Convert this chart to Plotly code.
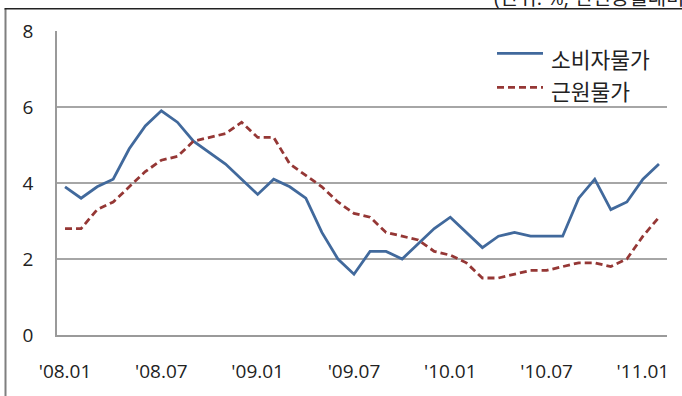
import plotly.graph_objects as go

# Monthly year-on-year inflation, Jan 2008 - Feb 2011 (%)
months = [f"'{y:02d}.{m:02d}" for y in (8, 9, 10) for m in range(1, 13)] + ["'11.01", "'11.02"]

cpi = [3.9, 3.6, 3.9, 4.1, 4.9, 5.5, 5.9, 5.6, 5.1, 4.8, 4.5, 4.1,
       3.7, 4.1, 3.9, 3.6, 2.7, 2.0, 1.6, 2.2, 2.2, 2.0, 2.4, 2.8,
       3.1, 2.7, 2.3, 2.6, 2.7, 2.6, 2.6, 2.6, 3.6, 4.1, 3.3, 3.5,
       4.1, 4.5]

core = [2.8, 2.8, 3.3, 3.5, 3.9, 4.3, 4.6, 4.7, 5.1, 5.2, 5.3, 5.6,
        5.2, 5.2, 4.5, 4.2, 3.9, 3.5, 3.2, 3.1, 2.7, 2.6, 2.5, 2.2,
        2.1, 1.9, 1.5, 1.5, 1.6, 1.7, 1.7, 1.8, 1.9, 1.9, 1.8, 2.0,
        2.6, 3.1]

series_names = ["소비자물가", "근원물가"]
tick_labels = ["'08.01", "'08.07", "'09.01", "'09.07", "'10.01", "'10.07", "'11.01"]
y_ticks = [0, 2, 4, 6, 8]
unit_note = "(단위: %, 전년동월대비)"

BLUE = "#41699C"
RED = "#953735"
FONT = "Open Sans, Noto Sans CJK KR, sans-serif"

W, H = 682, 396
L, R, T, B = 57, 15, 31, 58
PW, PH = W - L - R, H - T - B


def px(x):
    return (x - L) / PW


def py(y):
    return (H - B - y) / PH


fig = go.Figure()
fig.add_trace(go.Scatter(x=months, y=cpi, mode="lines", name=series_names[0],
                         line=dict(color=BLUE, width=2.8)))
fig.add_trace(go.Scatter(x=months, y=core, mode="lines", name=series_names[1],
                         line=dict(color=RED, width=2.8, dash="7px,4px")))

shapes = [
    # outer frame
    dict(type="line", xref="paper", yref="paper", x0=px(5.5), x1=px(5.5),
         y0=py(8.5), y1=py(420), line=dict(color="#7F7F7F", width=2)),
    dict(type="line", xref="paper", yref="paper", x0=px(4.5), x1=px(700),
         y0=py(8.5), y1=py(8.5), line=dict(color="#222222", width=1.5)),
    # legend samples
    dict(type="line", xref="paper", yref="paper", x0=px(497), x1=px(543),
         y0=py(53.5), y1=py(53.5), line=dict(color=BLUE, width=2.8)),
    dict(type="line", xref="paper", yref="paper", x0=px(497), x1=px(543),
         y0=py(88), y1=py(88), line=dict(color=RED, width=2.8, dash="7px,4px")),
]

annotations = [
    dict(text=series_names[0], xref="paper", yref="paper", x=px(549), y=py(60),
         xanchor="left", yanchor="middle", showarrow=False,
         font=dict(family=FONT, size=21.5, color="#222222")),
    dict(text=series_names[1], xref="paper", yref="paper", x=px(549), y=py(92),
         xanchor="left", yanchor="middle", showarrow=False,
         font=dict(family=FONT, size=21.5, color="#222222")),
    dict(text=unit_note, xref="paper", yref="paper", x=px(492), y=py(-3),
         xanchor="left", yanchor="middle", showarrow=False,
         font=dict(family=FONT, size=20, color="#222222")),
]

fig.update_layout(
    width=W, height=H,
    margin=dict(l=L, r=R, t=T, b=B),
    paper_bgcolor="white", plot_bgcolor="white",
    showlegend=False,
    shapes=shapes, annotations=annotations,
    font=dict(family=FONT, size=19, color="#222222"),
)
fig.update_xaxes(
    type="category", range=[-0.5, len(months) - 0.5],
    tickmode="array", tickvals=tick_labels, ticktext=tick_labels,
    showgrid=False, showline=True, linecolor="#9A9A9A", linewidth=1.6,
    ticks="", ticklabelstandoff=18, tickfont=dict(size=19),
)
fig.update_yaxes(
    range=[0, 8], tickmode="array", tickvals=y_ticks,
    showgrid=True, gridcolor="#A6A6A6", gridwidth=1.5,
    showline=True, linecolor="#9A9A9A", linewidth=1.6,
    zeroline=False, ticks="", ticklabelstandoff=18, tickfont=dict(size=19),
)

fig.write_html("out.html")
